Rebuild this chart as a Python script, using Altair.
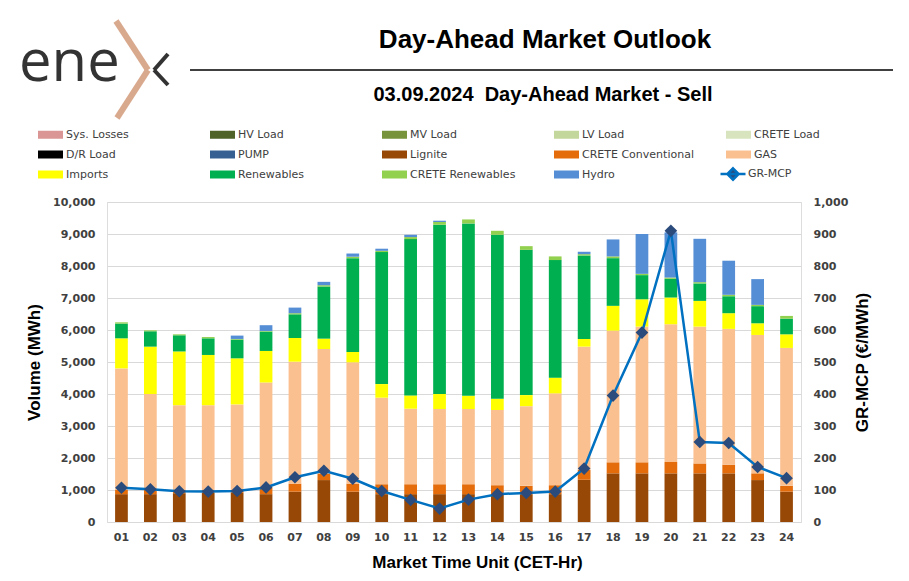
import altair as alt
import pandas as pd

hours = ["01", "02", "03", "04", "05", "06", "07", "08", "09", "10", "11", "12",
         "13", "14", "15", "16", "17", "18", "19", "20", "21", "22", "23", "24"]

series_names = ["Sys. Losses", "HV Load", "MV Load", "LV Load", "CRETE Load",
                "D/R Load", "PUMP", "Lignite", "CRETE Conventional", "GAS",
                "Imports", "Renewables", "CRETE Renewables", "Hydro"]
series_colors = ["#DA9694", "#4F6228", "#77933C", "#C3D69B", "#D7E4BD",
                 "#000000", "#366092", "#974806", "#E46C0A", "#FAC090",
                 "#FFFF00", "#00B050", "#92D050", "#558ED5"]

lignite = [870, 870, 900, 910, 910, 870, 950, 1310, 950, 870, 870, 870,
           870, 870, 870, 870, 1320, 1520, 1520, 1520, 1520, 1520, 1310, 950]
crete_conv = [130, 130, 100, 90, 90, 210, 250, 190, 250, 310, 310, 310,
              310, 280, 260, 280, 310, 345, 345, 355, 310, 270, 210, 180]
gas = [3800, 3000, 2650, 2650, 2675, 3280, 3810, 3905, 3790, 2705, 2360, 2350,
       2350, 2350, 2490, 2870, 3850, 4115, 4240, 4305, 4275, 4245, 4325, 4310]
imports = [940, 1480, 1680, 1570, 1440, 985, 740, 325, 325, 425, 415, 470,
           415, 350, 345, 490, 240, 775, 855, 835, 805, 490, 365, 425]
renewables = [460, 480, 505, 520, 585, 605, 740, 1630, 2930, 4125, 4885, 5290,
              5385, 5125, 4540, 3675, 2610, 1490, 755, 585, 545, 530, 535, 490]
crete_ren = [40, 30, 30, 40, 20, 20, 35, 40, 45, 40, 65, 85,
             125, 125, 115, 115, 40, 55, 40, 40, 40, 45, 40, 85]
hydro = [0, 0, 0, 0, 105, 180, 175, 105, 100, 65, 70, 40,
         0, 0, 0, 0, 75, 530, 1245, 1410, 1355, 1065, 805, 0]
gr_mcp = [107, 102, 96, 95, 97, 108, 140, 160, 135, 97, 69, 42,
          70, 87, 91, 95, 167, 395, 592, 910, 250, 247, 172, 137]

stack_series = {
    "Lignite": lignite,
    "CRETE Conventional": crete_conv,
    "GAS": gas,
    "Imports": imports,
    "Renewables": renewables,
    "CRETE Renewables": crete_ren,
    "Hydro": hydro,
}

rows = []
for name, vals in stack_series.items():
    for h, v in zip(hours, vals):
        rows.append({"hour": h, "series": name, "value": v,
                     "ord": series_names.index(name)})
df = pd.DataFrame(rows)
df_mcp = pd.DataFrame({"hour": hours, "mcp": gr_mcp, "label": "GR-MCP"})

FONT = "DejaVu Sans"
TFONT = "Liberation Sans"

x_enc = alt.X("hour:O", sort=hours,
              scale=alt.Scale(paddingInner=0.56, paddingOuter=0.28),
              axis=alt.Axis(title="Market Time Unit (CET-Hr)", labelAngle=0,
                            labelFont=FONT, labelFontWeight="bold", labelFontSize=11,
                            labelColor="#404040", labelPadding=9, ticks=False,
                            domain=False, titleFont=TFONT, titleFontSize=17,
                            titleFontWeight="bold", titleColor="#000000",
                            titlePadding=12, titleX=370))

bars = alt.Chart(df).mark_bar().encode(
    x=x_enc,
    y=alt.Y("value:Q", stack="zero",
            scale=alt.Scale(domain=[0, 10000], nice=False),
            axis=alt.Axis(title="Volume (MWh)", values=list(range(0, 10001, 1000)),
                          format=",d", labelFont=FONT, labelFontWeight="bold",
                          labelFontSize=11, labelColor="#404040", labelPadding=12,
                          ticks=False, domain=False, gridColor="#D9D9D9",
                          titleFont=TFONT, titleFontSize=17, titleFontWeight="bold",
                          titleColor="#000000", titlePadding=9)),
    color=alt.Color("series:N",
                    scale=alt.Scale(domain=series_names, range=series_colors),
                    legend=alt.Legend(title=None, orient="none", legendX=-69,
                                      legendY=-80, columns=5, direction="horizontal",
                                      gridAlign="all",
                                      columnPadding=32, rowPadding=2,
                                      symbolType="M-1,-0.32H1V0.32H-1Z",
                                      symbolSize=625, symbolStrokeWidth=0,
                                      labelFont=FONT, labelFontSize=11,
                                      labelColor="#404040", labelOffset=3,
                                      labelLimit=250)),
    order=alt.Order("ord:Q", sort="ascending"),
)

mcp_axis = alt.Axis(title="GR-MCP (€/MWh)", orient="right",
                    values=list(range(0, 1001, 100)), format=",d",
                    labelFont=FONT, labelFontWeight="bold", labelFontSize=11,
                    labelColor="#404040", labelPadding=12, ticks=False,
                    domain=False, grid=False, titleFont=TFONT,
                    titleFontSize=17, titleFontWeight="bold", titleAngle=270,
                    titleColor="#000000", titlePadding=24)
mcp_scale = alt.Scale(domain=[0, 1000], nice=False)

line = alt.Chart(df_mcp).mark_line(strokeWidth=2.5).encode(
    x=alt.X("hour:O", sort=hours),
    y=alt.Y("mcp:Q", scale=mcp_scale, axis=mcp_axis),
    stroke=alt.Stroke("label:N", scale=alt.Scale(domain=["GR-MCP"], range=["#0070C0"]),
                      legend=alt.Legend(title=None, orient="none", legendX=612,
                                        legendY=-42,
                                        symbolType="M-1,0H1M0,-0.45L0.45,0L0,0.45L-0.45,0Z",
                                        symbolSize=625, symbolStrokeWidth=2.5,
                                        symbolFillColor="#2A4B7C",
                                        labelFont=FONT, labelFontSize=11,
                                        labelColor="#404040", labelOffset=1)),
)
points = alt.Chart(df_mcp).mark_point(shape="diamond", filled=True, size=160,
                                      color="#2A4B7C", opacity=1).encode(
    x=alt.X("hour:O", sort=hours),
    y=alt.Y("mcp:Q", scale=mcp_scale, axis=mcp_axis),
)

deco = pd.DataFrame({"k": [0]})
title = alt.Chart(deco).mark_text(text="Day-Ahead Market Outlook", font=TFONT,
                                  fontSize=26, fontWeight="bold", color="#000000",
                                  align="center", baseline="middle").encode(
    x=alt.value(438), y=alt.value(-162))
subtitle = alt.Chart(deco).mark_text(text="03.09.2024\u00a0 Day-Ahead Market - Sell",
                                     font=TFONT, fontSize=20, fontWeight="bold",
                                     color="#000000", align="center",
                                     baseline="middle").encode(
    x=alt.value(436), y=alt.value(-107))
hline = alt.Chart(deco).mark_rule(color="#000000", strokeWidth=1.5).encode(
    x=alt.value(83), x2=alt.value(786), y=alt.value(-132))
logo_text = alt.Chart(deco).mark_text(text="ene", font="Open Sans", fontSize=58,
                                      fontWeight="normal", color="#333333", align="left",
                                      baseline="alphabetic").encode(
    x=alt.value(-88), y=alt.value(-121))
chev1 = alt.Chart(deco).mark_rule(color="#D9A98E", strokeWidth=6).encode(
    x=alt.value(9), y=alt.value(-181), x2=alt.value(41), y2=alt.value(-132))
chev2 = alt.Chart(deco).mark_rule(color="#D9A98E", strokeWidth=6).encode(
    x=alt.value(41), y=alt.value(-132), x2=alt.value(10), y2=alt.value(-84))
dk1 = alt.Chart(deco).mark_rule(color="#333333", strokeWidth=4).encode(
    x=alt.value(61), y=alt.value(-148), x2=alt.value(47), y2=alt.value(-132))
dk2 = alt.Chart(deco).mark_rule(color="#333333", strokeWidth=4).encode(
    x=alt.value(47), y=alt.value(-132), x2=alt.value(61), y2=alt.value(-117))

left = alt.layer(bars, title, subtitle, hline, logo_text, chev1, chev2, dk1, dk2)
right = alt.layer(line, points)

chart = alt.layer(left, right).resolve_scale(y="independent").properties(
    width=694, height=320,
    autosize=alt.AutoSizeParams(type="none"),
    padding={"left": 99, "top": 194, "right": 100, "bottom": 50},
).configure_view(stroke=None).configure(background="#FFFFFF")

chart.save("out.html", embed_options={"renderer": "svg", "actions": False})
